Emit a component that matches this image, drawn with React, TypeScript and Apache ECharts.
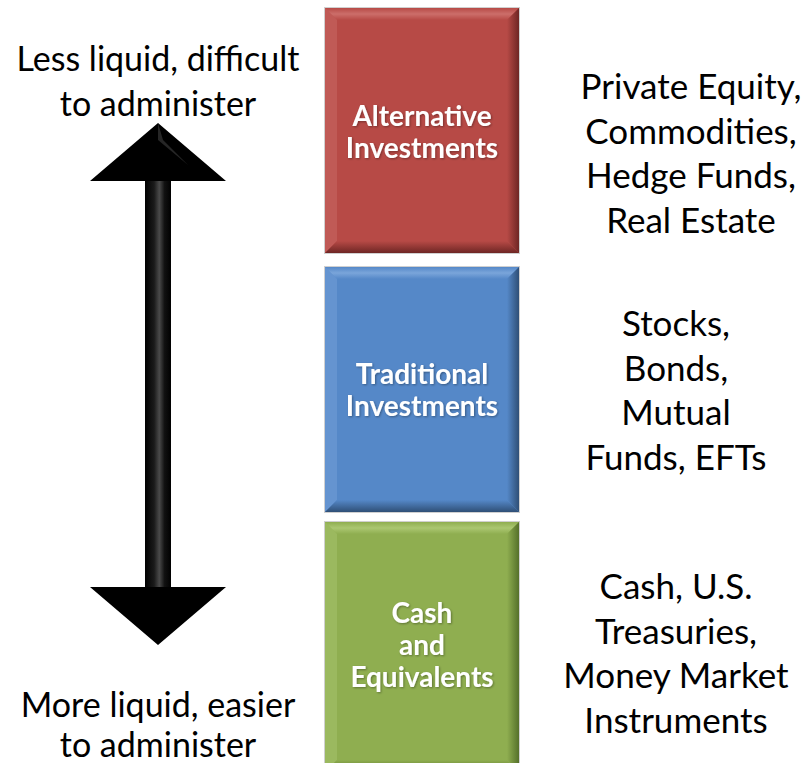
import React, { useEffect, useRef } from "react";
import * as echarts from "echarts";

const categories = ["Alternative\nInvestments", "Traditional\nInvestments", "Cash\nand\nEquivalents"];
const examples = [
  ["Private Equity,", "Commodities,", "Hedge Funds,", "Real Estate"],
  ["Stocks,", "Bonds,", "Mutual", "Funds, EFTs"],
  ["Cash, U.S.", "Treasuries,", "Money Market", "Instruments"],
];
const topLabel = ["Less liquid, difficult", "to administer"];
const bottomLabel = ["More liquid, easier", "to administer"];
const boxColors = ["#b74a46", "#5588c8", "#8fae50"];
const lightColors = ["#cc6e6a", "#7aa5da", "#abc772"];
const darkColors = ["#6e2624", "#2f4f76", "#55702a"];

const FONT = "Lato, 'Open Sans', sans-serif";

export default function App() {
  const ref = useRef<HTMLDivElement>(null);
  useEffect(() => {
    document.body.style.margin = "0";
    const chart = echarts.init(ref.current!, undefined, { renderer: "svg" });
    const boxX = 325;
    const boxW = 194;
    const boxTops = [8, 267, 522];
    const boxH = [245, 245, 250];
    const bev = 12;
    const elements: any[] = [];

    categories.forEach((cat, i) => {
      const x = boxX, y = boxTops[i], w = boxW, h = boxH[i];
      elements.push({ type: "rect", shape: { x: x - 1, y: y - 1, width: w + 2, height: h + 2 }, style: { fill: "#d0d0d0" } });
      elements.push({ type: "rect", shape: { x, y, width: w, height: h }, style: { fill: boxColors[i] } });
      elements.push({ type: "polygon", shape: { points: [[x, y], [x + w, y], [x + w - bev, y + bev], [x + bev, y + bev]] },
        style: { fill: new echarts.graphic.LinearGradient(0, 0, 0, 1, [{ offset: 0, color: boxColors[i] }, { offset: 0.5, color: lightColors[i] }, { offset: 1, color: boxColors[i] }]) } });
      elements.push({ type: "polygon", shape: { points: [[x, y], [x + bev, y + bev], [x + bev, y + h - bev], [x, y + h]] },
        style: { fill: lightColors[i], opacity: 0.45 } });
      elements.push({ type: "polygon", shape: { points: [[x + w, y], [x + w, y + h], [x + w - bev, y + h - bev], [x + w - bev, y + bev]] },
        style: { fill: new echarts.graphic.LinearGradient(0, 0, 1, 0, [{ offset: 0, color: boxColors[i] }, { offset: 1, color: darkColors[i] }]) } });
      elements.push({ type: "polygon", shape: { points: [[x, y + h], [x + bev, y + h - bev], [x + w - bev, y + h - bev], [x + w, y + h]] },
        style: { fill: new echarts.graphic.LinearGradient(0, 0, 0, 1, [{ offset: 0, color: boxColors[i] }, { offset: 1, color: darkColors[i] }]) } });
      const labelCy = [131, 389, 644][i];
      elements.push({ type: "text", x: x + w / 2, y: labelCy, style: {
        text: cat, fill: "#ffffff", font: `bold 28px ${FONT}`, align: "center", verticalAlign: "middle", lineHeight: 32,
        textShadowColor: "rgba(0,0,0,0.35)", textShadowBlur: 2, textShadowOffsetX: 1, textShadowOffsetY: 1 } });
      examples[i].forEach((t, j) => {
        const cy = [85, 322, 585][i] + j * 44.5;
        const cxText = [691, 676, 676][i];
        elements.push({ type: "text", x: cxText, y: cy, style: { text: t, fill: "#000", font: `35px ${FONT}`, align: "center", verticalAlign: "middle" } });
      });
    });

    topLabel.forEach((t, j) => elements.push({ type: "text", x: 158, y: 57 + j * 45, style: { text: t, fill: "#000", font: `34px ${FONT}`, align: "center", verticalAlign: "middle" } }));
    bottomLabel.forEach((t, j) => elements.push({ type: "text", x: 158, y: 703 + j * 40, style: { text: t, fill: "#000", font: `34px ${FONT}`, align: "center", verticalAlign: "middle" } }));

    const cx = 158;
    elements.push({ type: "polygon", shape: { points: [
      [cx, 123], [cx + 68, 181], [cx + 13, 181], [cx + 13, 587], [cx + 68, 587], [cx, 645], [cx - 68, 587], [cx - 13, 587], [cx - 13, 181], [cx - 68, 181]] },
      style: { fill: "#000" } });
    elements.push({ type: "rect", shape: { x: cx - 13, y: 181, width: 26, height: 406 },
      style: { fill: new echarts.graphic.LinearGradient(0, 0, 1, 0, [
        { offset: 0, color: "#000" }, { offset: 0.35, color: "#1a1a1a" }, { offset: 0.55, color: "#4a4a4a" }, { offset: 0.75, color: "#111" }, { offset: 1, color: "#000" }]) } });
    elements.push({ type: "polygon", shape: { points: [[cx, 123], [cx + 5, 140], [cx + 30, 165], [cx, 140]] }, style: { fill: "#262626" } });

    chart.setOption({ animation: false, graphic: { elements } });
    return () => chart.dispose();
  }, []);
  return <div ref={ref} style={{ position: "absolute", left: 0, top: 0, width: 804, height: 763 }} />;
}
